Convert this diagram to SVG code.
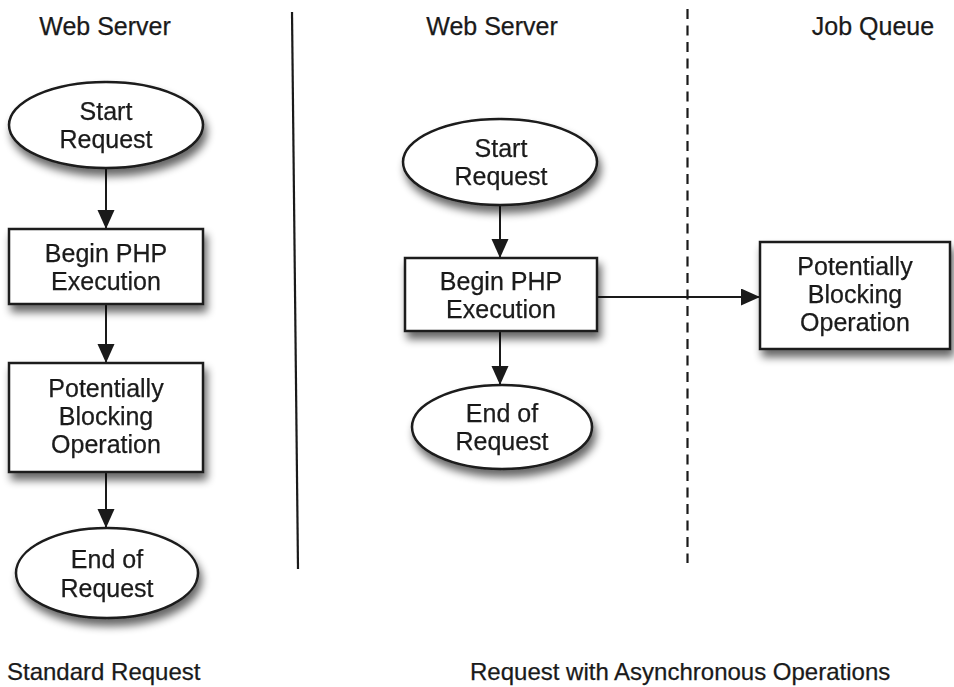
<svg xmlns="http://www.w3.org/2000/svg" width="954" height="687" viewBox="0 0 954 687">
  <style>
    .label { font-family: "Liberation Sans", Arial, Helvetica, sans-serif; font-size: 25px; fill: #1a1a1a; stroke: #1a1a1a; stroke-width: 0.25; }
    .caption { font-size: 24px; }
    .mid { text-anchor: middle; }
    .shape { fill: #ffffff; stroke: #1a1a1a; stroke-width: 2.5; }
    .flow { fill: none; stroke: #1a1a1a; stroke-width: 2; }
    .divider { fill: none; stroke: #1a1a1a; stroke-width: 2.2; }
  </style>
  <defs>
    <filter id="shadow" x="-20%" y="-20%" width="150%" height="160%">
      <feGaussianBlur in="SourceAlpha" stdDeviation="4"/>
      <feOffset dx="3" dy="7" result="blur"/>
      <feComponentTransfer><feFuncA type="linear" slope="0.6"/></feComponentTransfer>
      <feMerge><feMergeNode/><feMergeNode in="SourceGraphic"/></feMerge>
    </filter>
    <marker id="arrow" markerUnits="userSpaceOnUse" markerWidth="20" markerHeight="18" refX="19" refY="8.5" orient="auto">
      <path d="M0,0 L19,8.5 L0,17 Z" fill="#1a1a1a"/>
    </marker>
  </defs>

  <rect width="954" height="687" fill="#ffffff"/>

  <!-- column headings and captions -->
  <g id="headings">
    <text class="label mid" x="105" y="35">Web Server</text>
    <text class="label mid" x="492" y="35">Web Server</text>
    <text class="label mid" x="873" y="35">Job Queue</text>
    <text class="label caption" x="7" y="680">Standard Request</text>
    <text class="label caption" x="470" y="680">Request with Asynchronous Operations</text>
  </g>

  <!-- separators -->
  <g id="separators">
    <line class="divider" x1="292" y1="12" x2="298" y2="569"/>
    <line class="divider" x1="687.5" y1="9" x2="687.5" y2="563" stroke-dasharray="10 6.5"/>
  </g>

  <!-- connectors -->
  <g id="connectors">
    <line class="flow" x1="106" y1="169" x2="106" y2="229" marker-end="url(#arrow)"/>
    <line class="flow" x1="106" y1="304" x2="106" y2="363" marker-end="url(#arrow)"/>
    <line class="flow" x1="106" y1="472" x2="106" y2="528" marker-end="url(#arrow)"/>
    <line class="flow" x1="500" y1="205" x2="500" y2="258" marker-end="url(#arrow)"/>
    <line class="flow" x1="500" y1="331" x2="500" y2="385" marker-end="url(#arrow)"/>
    <line class="flow" x1="597" y1="297" x2="760" y2="297" marker-end="url(#arrow)"/>
  </g>

  <!-- standard request flow -->
  <g id="std-start" filter="url(#shadow)">
    <ellipse class="shape" cx="106" cy="125" rx="97" ry="43"/>
    <text class="label mid" x="106" y="120">Start</text>
    <text class="label mid" x="106" y="148">Request</text>
  </g>
  <g id="std-begin" filter="url(#shadow)">
    <rect class="shape" x="9" y="229" width="194" height="75"/>
    <text class="label mid" x="106" y="262">Begin PHP</text>
    <text class="label mid" x="106" y="290">Execution</text>
  </g>
  <g id="std-blocking" filter="url(#shadow)">
    <rect class="shape" x="9" y="363" width="194" height="109"/>
    <text class="label mid" x="106" y="397">Potentially</text>
    <text class="label mid" x="106" y="425">Blocking</text>
    <text class="label mid" x="106" y="453">Operation</text>
  </g>
  <g id="std-end" filter="url(#shadow)">
    <ellipse class="shape" cx="107" cy="573" rx="91" ry="45"/>
    <text class="label mid" x="107" y="568">End of</text>
    <text class="label mid" x="107" y="597">Request</text>
  </g>

  <!-- asynchronous request flow -->
  <g id="async-start" filter="url(#shadow)">
    <ellipse class="shape" cx="500" cy="162" rx="97" ry="43"/>
    <text class="label mid" x="501" y="157">Start</text>
    <text class="label mid" x="501" y="185">Request</text>
  </g>
  <g id="async-begin" filter="url(#shadow)">
    <rect class="shape" x="405" y="258" width="192" height="73"/>
    <text class="label mid" x="501" y="290">Begin PHP</text>
    <text class="label mid" x="501" y="318">Execution</text>
  </g>
  <g id="async-end" filter="url(#shadow)">
    <ellipse class="shape" cx="502" cy="427" rx="90" ry="42"/>
    <text class="label mid" x="502" y="422">End of</text>
    <text class="label mid" x="502" y="450">Request</text>
  </g>
  <g id="queue-blocking" filter="url(#shadow)">
    <rect class="shape" x="760" y="242" width="190" height="107"/>
    <text class="label mid" x="855" y="275">Potentially</text>
    <text class="label mid" x="855" y="303">Blocking</text>
    <text class="label mid" x="855" y="331">Operation</text>
  </g>
</svg>
